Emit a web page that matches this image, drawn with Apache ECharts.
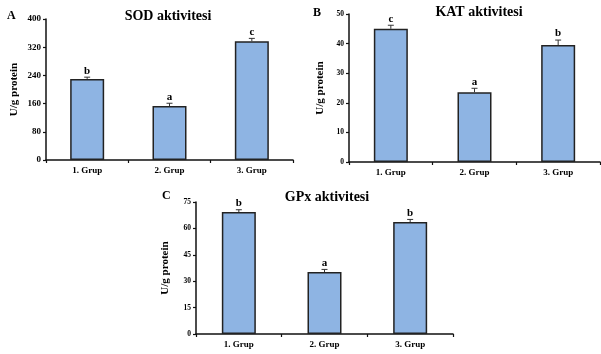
<!DOCTYPE html>
<html><head><meta charset="utf-8">
<script src="https://cdn.jsdelivr.net/npm/echarts@6/dist/echarts.min.js"></script>
<style>html,body{margin:0;padding:0;background:#fff}#c{width:601px;height:354px}</style>
</head><body><div id="c"></div>
<script>
const categories = ['1. Grup', '2. Grup', '3. Grup'];
const sodValues = [230, 153, 337];
const sodErrors = [5, 8, 8];
const sodLetters = ['b', 'a', 'c'];
const katValues = [45, 23.6, 39.5];
const katErrors = [1.2, 1.3, 1.7];
const katLetters = ['c', 'a', 'b'];
const gpxValues = [69.3, 35.2, 63.6];
const gpxErrors = [1.3, 1.5, 1.5];
const gpxLetters = ['b', 'a', 'b'];
const sodTicks = {min: 0, max: 400, interval: 80};
const katTicks = {min: 0, max: 50, interval: 10};
const gpxTicks = {min: 0, max: 75, interval: 15};

const FONT = '"Liberation Serif", "Times New Roman", serif';
const BAR = '#8EB4E3';
const AX = '#111';

const grids = [
  {left: 46, top: 19, width: 247, height: 141},
  {left: 349, top: 14, width: 251, height: 148},
  {left: 196, top: 202, width: 257, height: 132}
];
const ticks = [sodTicks, katTicks, gpxTicks];
const vals = [sodValues, katValues, gpxValues];
const errs = [sodErrors, katErrors, gpxErrors];
const letters = [sodLetters, katLetters, gpxLetters];
const nameGaps = [26, 23, 25];
const tickFont = [9, 7.5, 7.5];

function xAxis(i) {
  return {
    type: 'category', gridIndex: i, data: categories,
    axisLine: {lineStyle: {color: AX, width: 1.5}},
    axisTick: {show: true, length: 3, lineStyle: {color: AX, width: 1.2}},
    axisLabel: {fontFamily: FONT, fontWeight: 'bold', fontSize: 9, color: '#000', margin: 6}
  };
}
function yAxis(i) {
  return {
    type: 'value', gridIndex: i, min: ticks[i].min, max: ticks[i].max, interval: ticks[i].interval,
    name: 'U/g protein', nameLocation: 'middle', nameGap: nameGaps[i], nameRotate: 90,
    nameTextStyle: {fontFamily: FONT, fontWeight: 'bold', fontSize: 11, color: '#000'},
    axisLine: {show: true, lineStyle: {color: AX, width: 1.5}},
    axisTick: {show: true, length: 3, lineStyle: {color: AX, width: 1.2}},
    splitLine: {show: false},
    axisLabel: {fontFamily: FONT, fontWeight: 'bold', fontSize: tickFont[i], color: '#000', margin: 5}
  };
}
function errSeries(i) {
  return {
    type: 'custom', xAxisIndex: i, yAxisIndex: i, z: 5,
    data: vals[i].map((v, k) => [k, v, v + errs[i][k]]),
    renderItem: function (params, api) {
      const k = api.value(0);
      const p0 = api.coord([k, api.value(1)]);
      const p1 = api.coord([k, api.value(2)]);
      return {
        type: 'group',
        children: [
          {type: 'line', shape: {x1: p0[0], y1: p0[1], x2: p1[0], y2: p1[1]}, style: {stroke: '#333', lineWidth: 1}},
          {type: 'line', shape: {x1: p1[0] - 3, y1: p1[1], x2: p1[0] + 3, y2: p1[1]}, style: {stroke: '#333', lineWidth: 1}},
          {type: 'text', style: {x: p1[0], y: p1[1] - 1, text: letters[i][k], align: 'center', verticalAlign: 'bottom',
            font: 'bold 11px ' + FONT, fill: '#000'}}
        ]
      };
    }
  };
}
function barSeries(i) {
  return {
    type: 'bar', xAxisIndex: i, yAxisIndex: i, data: vals[i], barWidth: 34,
    itemStyle: {color: BAR, borderColor: '#222', borderWidth: 1.5}
  };
}
const big = {fontFamily: FONT, fontWeight: 'bold', fontSize: 14, color: '#000'};
const small = {fontFamily: FONT, fontWeight: 'bold', fontSize: 12, color: '#000'};
const titles = [
  {text: 'SOD aktivitesi', left: 168, top: 9, textAlign: 'center', textStyle: big},
  {text: 'A', left: 7, top: 10, textStyle: small},
  {text: 'KAT aktivitesi', left: 479, top: 5, textAlign: 'center', textStyle: big},
  {text: 'B', left: 313, top: 7, textStyle: small},
  {text: 'GPx aktivitesi', left: 327, top: 190, textAlign: 'center', textStyle: big},
  {text: 'C', left: 162, top: 190, textStyle: small}
].map(t => Object.assign(t, {padding: 0}));

const chart = echarts.init(document.getElementById('c'), null, {renderer: 'canvas'});
chart.setOption({
  animation: false,
  backgroundColor: '#fff',
  title: titles,
  grid: grids,
  xAxis: [0, 1, 2].map(xAxis),
  yAxis: [0, 1, 2].map(yAxis),
  series: [0, 1, 2].map(barSeries).concat([0, 1, 2].map(errSeries))
});
</script></body></html>
